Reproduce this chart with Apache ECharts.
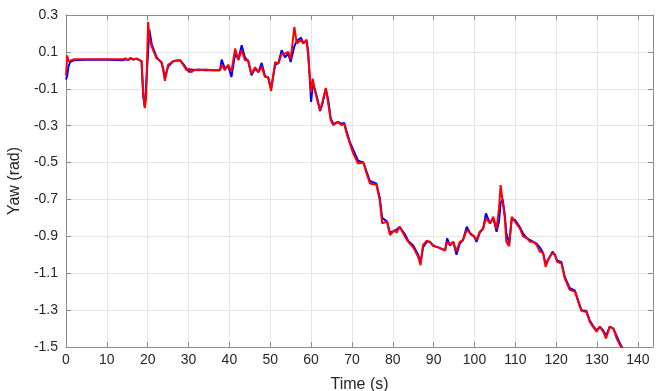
<!DOCTYPE html>
<html>
<head>
<meta charset="utf-8">
<script src="https://cdn.jsdelivr.net/npm/echarts@6/dist/echarts.min.js"></script>
<style>
  html, body { margin: 0; padding: 0; background: #fff; }
  #chart { width: 657px; height: 391px; }
</style>
</head>
<body>
<div id="chart"></div>
<script>
// time samples (s)
const times = [
  0.0, 0.3, 0.6, 1.0, 2.0, 5, 10, 14, 14.6, 15.2, 15.8, 16.5, 17.2, 18.0, 18.5, 18.9, 19.3, 19.6,
  20.1, 20.4, 21.0, 22.2, 23.4, 23.8, 24.2, 25.0, 26.3, 27.9, 28.7, 29.5, 30.2, 30.7, 31.5, 32.5,
  34, 36, 37.7, 38.1, 38.9, 39.7, 40.5, 41.4, 42.2, 43.0, 43.8, 44.6, 45.4, 46.3, 47.1, 47.9,
  48.7, 49.5, 50.2, 51.2, 52.0, 52.8, 53.6, 54.4, 55.0, 55.9, 56.5, 57.5, 58.1, 58.9, 59.3, 60.0,
  60.4, 60.9, 61.6, 62.2, 62.8, 63.6, 64.2, 64.8, 65.4, 66.6, 67.4, 68.1, 68.7, 69.5, 70.3, 70.7,
  71.5, 72.8, 73.6, 74.4, 76.0, 76.8, 77.4, 78.6, 79.3, 80.5, 80.9, 81.7, 83.0, 83.8, 85.0, 86.2,
  86.8, 87.4, 88.3, 89.1, 89.9, 91.1, 92.8, 93.3, 94.0, 94.8, 95.6, 96.4, 97.2, 98.1, 99.1, 99.9,
  100.5, 101.3, 102.1, 102.8, 103.8, 104.6, 105.4, 106.0, 106.4, 106.9, 107.4, 107.8, 108.5, 109.1,
  109.9, 111.1, 111.9, 112.8, 113.6, 114.4, 115.2, 116.0, 116.8, 117.4, 118.2, 119.1, 119.7, 120.2,
  121.3, 122.1, 123.3, 124.6, 125.4, 126.2, 127.4, 128.2, 129.0, 129.9, 130.7, 131.5, 132.2, 133.1,
  134.0, 134.8, 135.6, 136.3
];

// yaw, red trace (rad)
const yawRed = [
  -0.03, 0.08, 0.05, 0.06, 0.06, 0.06, 0.06, 0.06, 0.065, 0.055, 0.068, 0.058, 0.065, 0.055, 0.05, -0.12, -0.205, -0.15,
  0.262, 0.18, 0.127, 0.064, 0.045, 0.0, -0.057, 0.03, 0.05, 0.055, 0.03, 0.0, 0.01, -0.01, 0.005, 0.0,
  0.005, 0.0, 0.0, 0.03, 0.0, 0.03, -0.007, 0.118, 0.055, 0.11, 0.055, 0.055, -0.02, 0.017, -0.01, 0.02,
  -0.036, -0.036, -0.112, 0.045, 0.036, 0.09, 0.09, 0.1, 0.06, 0.235, 0.145, 0.165, 0.145, 0.167, 0.073, -0.12,
  -0.045, -0.108, -0.17, -0.215, -0.171, -0.095, -0.18, -0.27, -0.297, -0.28, -0.297, -0.29, -0.343, -0.397, -0.45, -0.44,
  -0.505, -0.5, -0.56, -0.613, -0.62, -0.704, -0.83, -0.82, -0.893, -0.866, -0.88, -0.848, -0.903, -0.93, -0.96, -1.011,
  -1.056, -0.948, -0.924, -0.93, -0.953, -0.96, -0.978, -0.93, -0.946, -0.93, -0.98, -0.93, -0.92, -0.866, -0.885, -0.9,
  -0.92, -0.875, -0.857, -0.803, -0.83, -0.794, -0.86, -0.75, -0.622, -0.713, -0.794, -0.93, -0.953, -0.794,
  -0.82, -0.857, -0.9, -0.91, -0.93, -0.93, -0.946, -0.983, -0.99, -1.065, -1.02, -0.99, -1.0, -1.038,
  -1.047, -1.128, -1.19, -1.2, -1.255, -1.304, -1.31, -1.363, -1.39, -1.417, -1.39, -1.417, -1.453, -1.39,
  -1.40, -1.453, -1.49, -1.51
];

// yaw, blue trace (rad)
const yawBlue = [
  -0.05, -0.03, 0.02, 0.045, 0.055, 0.058, 0.058, 0.055, 0.06, 0.055, 0.065, 0.058, 0.062, 0.055, 0.05, -0.14, -0.2, -0.19,
  0.1, 0.22, 0.14, 0.07, 0.04, 0.01, -0.04, 0.02, 0.05, 0.055, 0.035, 0.01, -0.01, 0.005, 0.0, 0.005,
  0.0, 0.0, 0.0, 0.058, 0.01, 0.025, -0.036, 0.09, 0.06, 0.136, 0.07, 0.05, -0.027, 0.01, -0.01, 0.04,
  -0.03, -0.04, -0.1, 0.03, 0.04, 0.109, 0.07, 0.09, 0.045, 0.13, 0.16, 0.177, 0.15, 0.16, 0.1, -0.171,
  -0.08, -0.1, -0.16, -0.22, -0.18, -0.1, -0.16, -0.26, -0.29, -0.28, -0.29, -0.285, -0.33, -0.39, -0.43, -0.44,
  -0.49, -0.5, -0.55, -0.6, -0.615, -0.69, -0.8, -0.82, -0.88, -0.87, -0.875, -0.85, -0.89, -0.925, -0.95, -1.0,
  -1.04, -0.96, -0.93, -0.93, -0.95, -0.96, -0.975, -0.911, -0.95, -0.93, -1.0, -0.94, -0.92, -0.848, -0.89, -0.9,
  -0.93, -0.88, -0.86, -0.776, -0.83, -0.8, -0.875, -0.82, -0.72, -0.7, -0.78, -0.88, -0.94, -0.81,
  -0.81, -0.85, -0.885, -0.91, -0.92, -0.93, -0.94, -0.96, -0.99, -1.05, -1.02, -0.983, -1.0, -1.03,
  -1.04, -1.12, -1.18, -1.195, -1.25, -1.3, -1.305, -1.355, -1.385, -1.41, -1.39, -1.41, -1.44, -1.39,
  -1.40, -1.44, -1.48, -1.51
];

const xMin = 0, xMax = 143.7, xStep = 10;
const yMin = -1.5, yMax = 0.3, yStep = 0.2;

const chart = echarts.init(document.getElementById('chart'));

const font = 'Liberation Sans, Arial, Helvetica, sans-serif';
const axisColor = '#8c8c8c';
const gridColor = '#e6e6e6';
const textColor = '#262626';

const pairs = arr => times.map((t, i) => [t, arr[i]]);

const option = {
  animation: false,
  backgroundColor: '#fff',
  grid: { left: 66, right: 4, top: 15, bottom: 44, show: false, outerBoundsMode: 'none', containLabel: false },
  xAxis: [
    {
      type: 'value', min: xMin, max: xMax, interval: xStep,
      name: 'Time (s)', nameLocation: 'middle', nameGap: 30,
      nameTextStyle: { fontFamily: font, fontSize: 16, color: textColor },
      axisLine: { show: true, onZero: false, lineStyle: { color: axisColor, width: 1 } },
      axisTick: { show: true, inside: true, length: 5, lineStyle: { color: axisColor } },
      axisLabel: { fontFamily: font, fontSize: 14, color: textColor, margin: 6, showMaxLabel: false },
      splitLine: { show: true, lineStyle: { color: gridColor, width: 1 } }
    },
    {
      type: 'value', min: xMin, max: xMax, interval: xStep, position: 'top',
      axisLine: { show: true, onZero: false, lineStyle: { color: axisColor, width: 1 } },
      axisTick: { show: true, inside: true, length: 5, lineStyle: { color: axisColor } },
      axisLabel: { show: false },
      splitLine: { show: false }
    }
  ],
  yAxis: [
    {
      type: 'value', min: yMin, max: yMax, interval: yStep,
      name: 'Yaw (rad)', nameLocation: 'middle', nameGap: 30,
      nameTextStyle: { fontFamily: font, fontSize: 16, color: textColor },
      axisLine: { show: true, onZero: false, lineStyle: { color: axisColor, width: 1 } },
      axisTick: { show: true, inside: true, length: 5, lineStyle: { color: axisColor } },
      axisLabel: { fontFamily: font, fontSize: 14, color: textColor, margin: 8,
        formatter: v => v.toFixed(1) },
      splitLine: { show: true, lineStyle: { color: gridColor, width: 1 } }
    },
    {
      type: 'value', min: yMin, max: yMax, interval: yStep, position: 'right',
      axisLine: { show: true, onZero: false, lineStyle: { color: axisColor, width: 1 } },
      axisTick: { show: true, inside: true, length: 5, lineStyle: { color: axisColor } },
      axisLabel: { show: false },
      splitLine: { show: false }
    }
  ],
  series: [
    {
      name: 'blue', type: 'line', data: pairs(yawBlue), showSymbol: false,
      lineStyle: { color: '#0000ff', width: 2 }, clip: true
    },
    {
      name: 'red', type: 'line', data: pairs(yawRed), showSymbol: false,
      lineStyle: { color: '#ff0000', width: 2 }, clip: true
    }
  ]
};

chart.setOption(option);
</script>
</body>
</html>
